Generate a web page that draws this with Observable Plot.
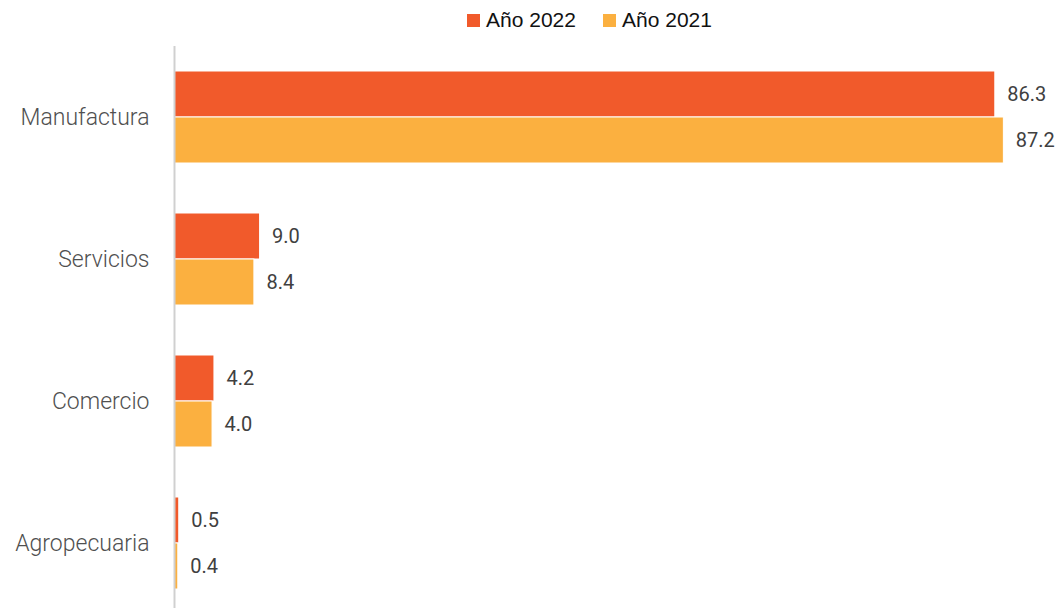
<!DOCTYPE html>
<html>
<head>
<meta charset="utf-8">
<script src="https://cdn.jsdelivr.net/npm/d3@7"></script>
<script src="https://cdn.jsdelivr.net/npm/@observablehq/plot@0.6"></script>
<style>
  html, body { margin: 0; padding: 0; background: #fff; overflow: hidden; }
  #legend { height: 38px; position: relative; font-family: "Liberation Sans", "Noto Sans", sans-serif; font-size: 21px; color: #111; }
  .item { position: absolute; top: 8px; display: flex; align-items: center; }
  .sw { width: 13px; height: 13px; margin-right: 6px; }
</style>
</head>
<body>
<div id="legend"></div>
<div id="chart"></div>
<script>
const categories = ["Manufactura", "Servicios", "Comercio", "Agropecuaria"];
const series = ["Año 2022", "Año 2021"];
const values2022 = [86.3, 9.0, 4.2, 0.5];
const values2021 = [87.2, 8.4, 4.0, 0.4];
const colors = ["#F15A2B", "#FBB040"];
const legendLeft = [467, 603];

const data = categories.flatMap((c, i) => [
  {cat: c, year: series[0], v: values2022[i]},
  {cat: c, year: series[1], v: values2021[i]}
]);

const legend = document.getElementById("legend");
series.forEach((s, i) => {
  const it = document.createElement("div");
  it.className = "item";
  it.style.left = legendLeft[i] + "px";
  const sw = document.createElement("div");
  sw.className = "sw";
  sw.style.background = colors[i];
  const t = document.createElement("span");
  t.textContent = s;
  it.appendChild(sw); it.appendChild(t);
  legend.appendChild(it);
});

const chart = Plot.plot({
  width: 1058,
  height: 576,
  marginLeft: 174,
  marginRight: 28,
  marginTop: 7,
  marginBottom: 0,
  style: {fontFamily: "Roboto, sans-serif", background: "white"},
  fy: {domain: categories, padding: 0},
  y: {domain: series, paddingInner: 0, paddingOuter: 0.53, axis: null},
  x: {domain: [0, 90], axis: null},
  color: {domain: series, range: colors},
  marks: [
    Plot.barX(data, {fy: "cat", y: "year", x: "v", fill: "year", stroke: "white", strokeWidth: 1}),
    Plot.text(data, {fy: "cat", y: "year", x: "v", text: d => d.v.toFixed(1), dx: 12, textAnchor: "start", fontSize: 20, fill: "#404040"}),
    Plot.ruleX([0], {stroke: "#d0d0d0", strokeWidth: 2}),
    Plot.axisFy({anchor: "left", tickSize: 0, tickPadding: 25, fontSize: 23, fontWeight: 300, fill: "#505050", label: null, style: {letterSpacing: "0.4px"}})
  ]
});
document.getElementById("chart").appendChild(chart);
</script>
</body>
</html>
